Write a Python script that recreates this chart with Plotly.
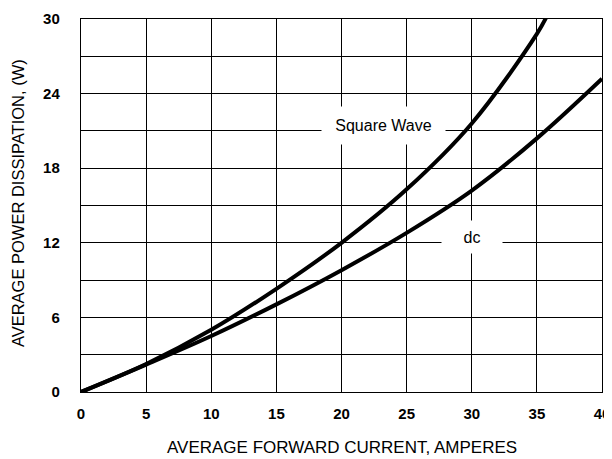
import plotly.graph_objects as go

# Data
current_a = [0, 5, 10, 15, 20, 25, 30, 35, 40]
dc_power_w = [0, 2.2, 4.5, 7.05, 9.8, 12.8, 16.2, 20.4, 25.2]

sq_current_a = [0, 5, 10, 15, 20, 25, 30, 35, 35.8]
sq_power_w = [0, 2.25, 5.0, 8.3, 12.0, 16.3, 21.6, 28.8, 30.3]

x_ticks = [0, 5, 10, 15, 20, 25, 30, 35, 40]
y_ticks = [0, 6, 12, 18, 24, 30]

FONT = "Liberation Sans, Arial, sans-serif"

fig = go.Figure()
fig.add_trace(go.Scatter(x=sq_current_a, y=sq_power_w, mode="lines",
                         line=dict(color="black", width=4, shape="spline"),
                         name="Square Wave", showlegend=False))
fig.add_trace(go.Scatter(x=current_a, y=dc_power_w, mode="lines",
                         line=dict(color="black", width=4, shape="spline"),
                         name="dc", showlegend=False))

fig.add_annotation(x=23.22, y=21.43, text="Square Wave", showarrow=False,
                   bgcolor="white", width=121, height=35,
                   font=dict(family=FONT, size=16, color="black"))
fig.add_annotation(x=30.03, y=12.43, text="dc", showarrow=False,
                   bgcolor="white", width=58, height=30,
                   font=dict(family=FONT, size=16, color="black"))

# Axis titles
fig.add_annotation(xref="paper", yref="paper", x=0.5, y=-0.1475,
                   xanchor="center", yanchor="middle", showarrow=False,
                   text="AVERAGE FORWARD CURRENT, AMPERES",
                   font=dict(family=FONT, size=17, color="black"))
fig.add_annotation(xref="paper", yref="paper", x=-0.1205, y=0.507,
                   xanchor="center", yanchor="middle", showarrow=False, textangle=-90,
                   text="AVERAGE POWER DISSIPATION, (W)",
                   font=dict(family=FONT, size=16.5, color="black"))

fig.update_xaxes(range=[0, 40], tickvals=x_ticks, ticktext=[str(v) for v in x_ticks],
                 showgrid=True, gridcolor="black", gridwidth=1.4, automargin=False,
                 zeroline=False, showline=True, linecolor="black", linewidth=1.4, mirror=True,
                 ticks="", ticklabelstandoff=8,
                 tickfont=dict(family=FONT, size=15, color="black", weight="bold"))
fig.update_yaxes(range=[0, 30], tickvals=y_ticks, ticktext=[str(v) for v in y_ticks],
                 showgrid=True, gridcolor="black", gridwidth=1.4, automargin=False,
                 minor=dict(dtick=3, tick0=0, showgrid=True, gridcolor="black", gridwidth=1.4, ticks=""),
                 zeroline=False, showline=True, linecolor="black", linewidth=1.4, mirror=True,
                 ticks="", ticklabelstandoff=17,
                 tickfont=dict(family=FONT, size=15, color="black", weight="bold"))

# The page body has an 8px margin, so the figure is offset by 8px.
fig.update_layout(width=604, height=451, margin=dict(l=73, r=10, t=11, b=67),
                  plot_bgcolor="white", paper_bgcolor="white",
                  font=dict(family=FONT, color="black"))

fig.write_html("out.html")
